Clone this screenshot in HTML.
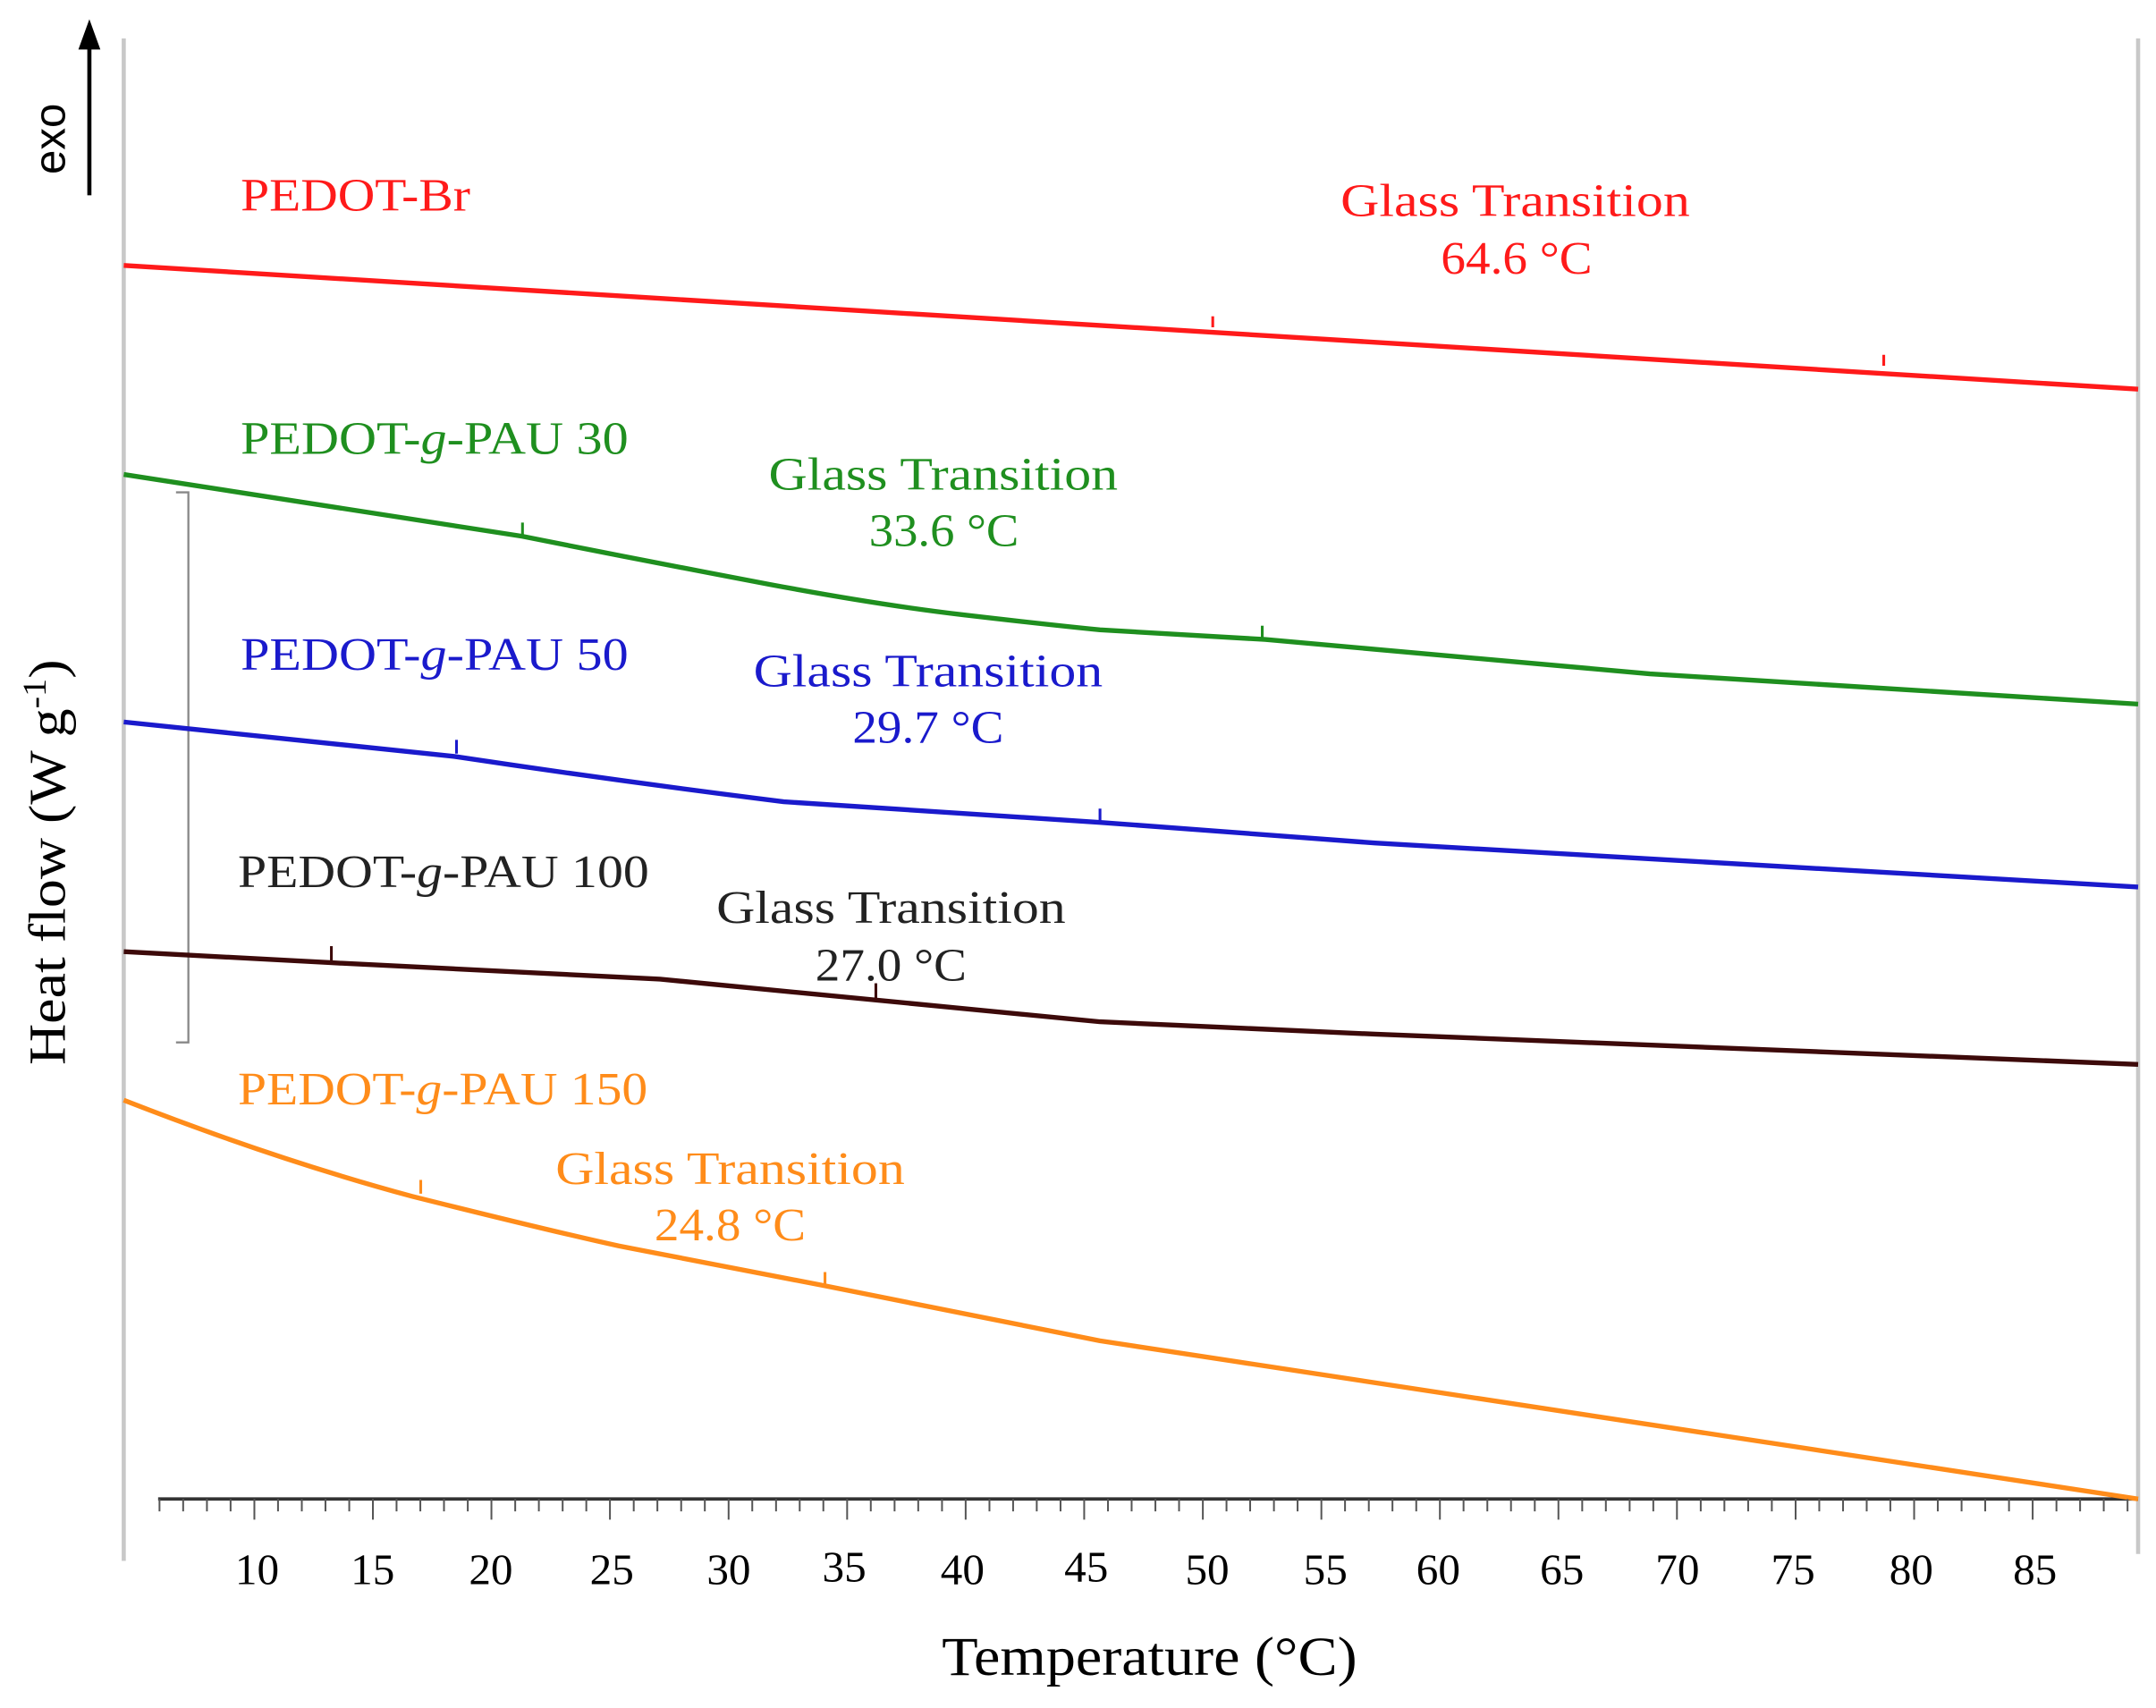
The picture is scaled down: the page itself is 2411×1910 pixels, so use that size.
<!DOCTYPE html>
<html><head><style>html,body{margin:0;padding:0;background:#fff}svg{display:block}</style></head><body>
<svg width="2411" height="1910" viewBox="0 0 1568 1242" preserveAspectRatio="none" xmlns="http://www.w3.org/2000/svg" font-family="'Liberation Serif', serif">
<rect width="1568" height="1242" fill="#fff"/>
<line x1="90" y1="28" x2="90" y2="1135" stroke="#c8c8c8" stroke-width="3"/>
<line x1="1555" y1="28" x2="1555" y2="1130" stroke="#c8c8c8" stroke-width="3"/>
<line x1="65" y1="142" x2="65" y2="35" stroke="#000" stroke-width="3"/>
<polygon points="65,14 57,36 73,36" fill="#000"/>
<text transform="translate(47,101) rotate(-90)" text-anchor="middle" font-family="'Liberation Sans', sans-serif" font-size="32">exo</text>
<text transform="translate(47,627) rotate(-90)" text-anchor="middle" font-size="38" textLength="295" lengthAdjust="spacingAndGlyphs">Heat flow (W g<tspan dy="-14" font-size="24">-1</tspan><tspan dy="14">)</tspan></text>
<path d="M128,358 H137 V758 H128" fill="none" stroke="#888" stroke-width="1.5"/>
<line x1="115" y1="1090" x2="1555" y2="1090" stroke="#333" stroke-width="2.5"/>
<g font-size="32" text-anchor="middle" fill="#000">
<text x="187" y="1152">10</text><text x="271" y="1152">15</text><text x="357" y="1152">20</text><text x="445" y="1152">25</text><text x="530" y="1152">30</text><text x="614" y="1150">35</text><text x="700" y="1152">40</text><text x="790" y="1150">45</text><text x="878" y="1152">50</text><text x="964" y="1152">55</text><text x="1046" y="1152">60</text><text x="1136" y="1152">65</text><text x="1220" y="1152">70</text><text x="1304" y="1152">75</text><text x="1390" y="1152">80</text><text x="1480" y="1152">85</text>
</g>
<text x="685" y="1218" font-size="40" textLength="302" lengthAdjust="spacingAndGlyphs">Temperature (°C)</text>
<g fill="none" stroke-width="3.5" stroke-linejoin="round">
<path d="M90,193 L1555,283" stroke="#ff1a1a"/>
<path d="M90,345 L380,390 Q470,408 560,425 Q640,440 700,447 Q760,454 800,458 L920,465 L1200,490 L1555,512" stroke="#1f8f1f"/>
<path d="M90,525 L330,550 Q450,568 570,583 L800,598 L1000,613 L1555,645" stroke="#1a1acc"/>
<path d="M90,692 L240,700 L480,712 Q640,728 800,743 L1000,752 L1555,774" stroke="#3d0a0a"/>
<path d="M90,800 Q200,843 300,870 Q400,895 450,906 L600,935 L800,975 L1555,1090" stroke="#ff8c1a"/>
</g>
<g stroke-width="2">
<path d="M882,238 V230" stroke="#ff1a1a"/><path d="M1370,266 V258" stroke="#ff1a1a"/>
<path d="M380,390 V380" stroke="#1f8f1f"/><path d="M918,465 V455" stroke="#1f8f1f"/>
<path d="M332,548 V538" stroke="#1a1acc"/><path d="M800,598 V588" stroke="#1a1acc"/>
<path d="M241,700 V688" stroke="#3d0a0a"/><path d="M637,727 V715" stroke="#3d0a0a"/>
<path d="M306,868 V858" stroke="#ff8c1a"/><path d="M600,935 V925" stroke="#ff8c1a"/>
</g>
<g font-size="34" lengthAdjust="spacingAndGlyphs">
<text x="175" y="153" fill="#ff1a1a" textLength="167" lengthAdjust="spacingAndGlyphs">PEDOT-Br</text>
<text x="975" y="157" fill="#ff1a1a" textLength="254" lengthAdjust="spacingAndGlyphs">Glass Transition</text>
<text x="1048" y="199" fill="#ff1a1a" textLength="110" lengthAdjust="spacingAndGlyphs">64.6 °C</text>
<text x="175" y="330" fill="#1f8f1f" textLength="282" lengthAdjust="spacingAndGlyphs">PEDOT-<tspan font-style="italic">g</tspan>-PAU 30</text>
<text x="559" y="356" fill="#1f8f1f" textLength="254" lengthAdjust="spacingAndGlyphs">Glass Transition</text>
<text x="632" y="397" fill="#1f8f1f" textLength="109" lengthAdjust="spacingAndGlyphs">33.6 °C</text>
<text x="175" y="487" fill="#1a1acc" textLength="282" lengthAdjust="spacingAndGlyphs">PEDOT-<tspan font-style="italic">g</tspan>-PAU 50</text>
<text x="548" y="499" fill="#1a1acc" textLength="254" lengthAdjust="spacingAndGlyphs">Glass Transition</text>
<text x="620" y="540" fill="#1a1acc" textLength="110" lengthAdjust="spacingAndGlyphs">29.7 °C</text>
<text x="173" y="645" fill="#222" textLength="299" lengthAdjust="spacingAndGlyphs">PEDOT-<tspan font-style="italic">g</tspan>-PAU 100</text>
<text x="521" y="671" fill="#222" textLength="254" lengthAdjust="spacingAndGlyphs">Glass Transition</text>
<text x="593" y="713" fill="#222" textLength="110" lengthAdjust="spacingAndGlyphs">27.0 °C</text>
<text x="173" y="803" fill="#ff8c1a" textLength="298" lengthAdjust="spacingAndGlyphs">PEDOT-<tspan font-style="italic">g</tspan>-PAU 150</text>
<text x="404" y="861" fill="#ff8c1a" textLength="254" lengthAdjust="spacingAndGlyphs">Glass Transition</text>
<text x="476" y="902" fill="#ff8c1a" textLength="110" lengthAdjust="spacingAndGlyphs">24.8 °C</text>
</g>
<g stroke="#555" stroke-width="1.3">
<path d="M116.0,1090v9M133.2,1090v9M150.5,1090v9M167.7,1090v9M185.0,1090v15M202.2,1090v9M219.5,1090v9M236.7,1090v9M254.0,1090v9M271.2,1090v15M288.4,1090v9M305.7,1090v9M322.9,1090v9M340.2,1090v9M357.4,1090v15M374.7,1090v9M391.9,1090v9M409.2,1090v9M426.4,1090v9M443.6,1090v15M460.9,1090v9M478.1,1090v9M495.4,1090v9M512.6,1090v9M529.9,1090v15M547.1,1090v9M564.4,1090v9M581.6,1090v9M598.8,1090v9M616.1,1090v15M633.3,1090v9M650.6,1090v9M667.8,1090v9M685.1,1090v9M702.3,1090v15M719.6,1090v9M736.8,1090v9M754.0,1090v9M771.3,1090v9M788.5,1090v15M805.8,1090v9M823.0,1090v9M840.3,1090v9M857.5,1090v9M874.8,1090v15M892.0,1090v9M909.2,1090v9M926.5,1090v9M943.7,1090v9M961.0,1090v15M978.2,1090v9M995.5,1090v9M1012.7,1090v9M1030.0,1090v9M1047.2,1090v15M1064.4,1090v9M1081.7,1090v9M1098.9,1090v9M1116.2,1090v9M1133.4,1090v15M1150.7,1090v9M1167.9,1090v9M1185.2,1090v9M1202.4,1090v9M1219.6,1090v15M1236.9,1090v9M1254.1,1090v9M1271.4,1090v9M1288.6,1090v9M1305.9,1090v15M1323.1,1090v9M1340.4,1090v9M1357.6,1090v9M1374.8,1090v9M1392.1,1090v15M1409.3,1090v9M1426.6,1090v9M1443.8,1090v9M1461.1,1090v9M1478.3,1090v15M1495.6,1090v9M1512.8,1090v9M1530.0,1090v9M1547.3,1090v9"/>
</g>
</svg>
</body></html>
